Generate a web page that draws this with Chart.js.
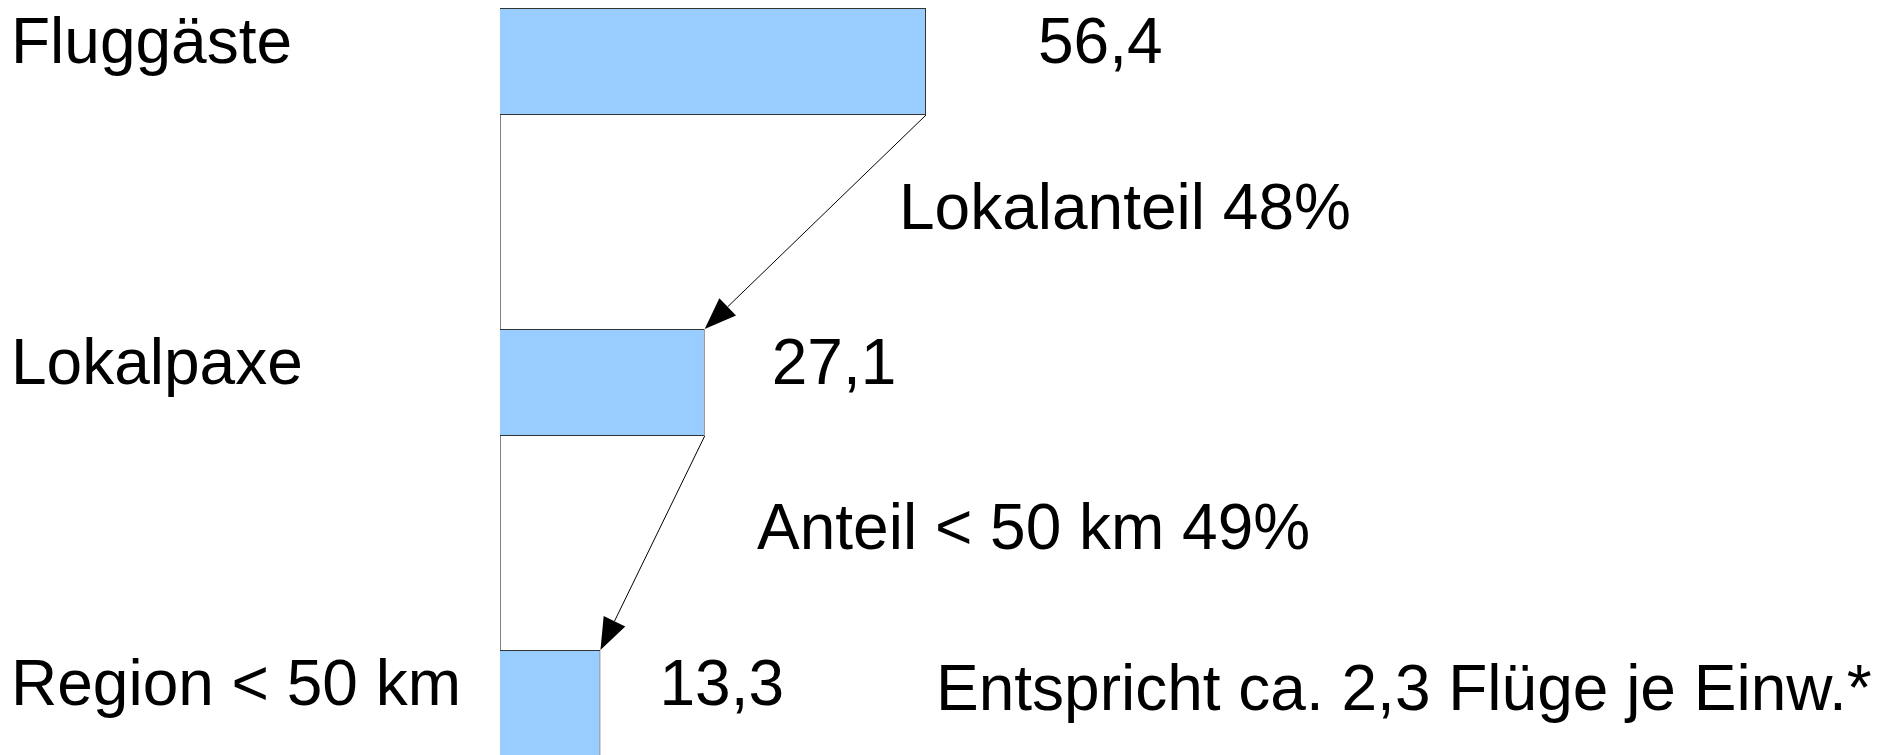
<!DOCTYPE html>
<html>
<head>
<meta charset="utf-8">
<script src="https://cdn.jsdelivr.net/npm/chart.js@4/dist/chart.umd.min.js"></script>
<style>
  html, body { margin: 0; padding: 0; background: #ffffff; overflow: hidden; }
  #wrap { position: relative; width: 1892px; height: 755px; }
</style>
</head>
<body>
<div id="wrap"><canvas id="c"></canvas></div>
<script>
// ---- data ----
const categories = ["Fluggäste", "Lokalpaxe", "Region < 50 km"];
const values = [56.4, 27.1, 13.3];
const valueLabels = ["56,4", "27,1", "13,3"];
const arrowLabels = ["Lokalanteil 48%", "Anteil < 50 km 49%"];
const noteText = "Entspricht ca. 2,3 Flüge je Einw.*";

// ---- style ----
const FONT = '64px "Liberation Sans", Arial, sans-serif';
const valueLabelDx = [112, 67, 59];     // px right of bar end
const arrowLabelPos = [[899, 229], [757, 549]];
const notePos = [936, 710];

const annotations = {
  id: 'annotations',
  afterDatasetsDraw(chart) {
    const ctx = chart.ctx;
    const xs = chart.scales.x;
    const meta = chart.getDatasetMeta(0);
    ctx.save();
    ctx.font = FONT;
    ctx.fillStyle = '#000';
    ctx.textBaseline = 'alphabetic';
    ctx.textAlign = 'left';
    // value labels
    meta.data.forEach((el, i) => {
      const x = xs.getPixelForValue(values[i]) + valueLabelDx[i];
      ctx.fillText(valueLabels[i], x, el.y + 1);
    });
    // arrows between bars
    for (let i = 0; i < meta.data.length - 1; i++) {
      const a = meta.data[i], b = meta.data[i + 1];
      const x1 = xs.getPixelForValue(values[i]);
      const y1 = a.y + a.height / 2;
      const x2 = xs.getPixelForValue(values[i + 1]);
      const y2 = b.y - b.height / 2;
      const ang = Math.atan2(y2 - y1, x2 - x1);
      const L = 32, W = 12;
      const bx = x2 - L * Math.cos(ang), by = y2 - L * Math.sin(ang);
      ctx.strokeStyle = '#000';
      ctx.lineWidth = 1;
      ctx.beginPath();
      ctx.moveTo(x1, y1);
      ctx.lineTo(bx, by);
      ctx.stroke();
      ctx.beginPath();
      ctx.moveTo(x2, y2);
      ctx.lineTo(bx + W * Math.sin(ang), by - W * Math.cos(ang));
      ctx.lineTo(bx - W * Math.sin(ang), by + W * Math.cos(ang));
      ctx.closePath();
      ctx.fill();
      ctx.fillText(arrowLabels[i], arrowLabelPos[i][0], arrowLabelPos[i][1]);
    }
    ctx.fillText(noteText, notePos[0], notePos[1]);
    ctx.restore();
  }
};

new Chart(document.getElementById('c'), {
  type: 'bar',
  data: {
    labels: categories,
    datasets: [{
      data: values,
      backgroundColor: '#99ccff',
      borderColor: '#333333',
      borderWidth: 1,
      categoryPercentage: 1,
      barPercentage: 1 / 3,
      clip: false
    }]
  },
  options: {
    indexAxis: 'y',
    responsive: true,
    maintainAspectRatio: false,
    animation: false,
    events: [],
    layout: { padding: { left: 11, top: 61.5, bottom: 51.5, right: 938.8 } },
    plugins: { legend: { display: false }, tooltip: { enabled: false } },
    scales: {
      x: { display: false, min: 0, max: 60 },
      y: {
        offset: false,
        grid: { display: false },
        border: { display: true, color: '#808080', width: 1 },
        ticks: {
          color: '#000',
          font: { family: '"Liberation Sans", Arial, sans-serif', size: 64 },
          crossAlign: 'far',
          labelOffset: -16.5,
          padding: 0
        },
        afterFit(scale) { scale.width = 489; }
      }
    }
  },
  plugins: [annotations]
});
</script>
</body>
</html>
